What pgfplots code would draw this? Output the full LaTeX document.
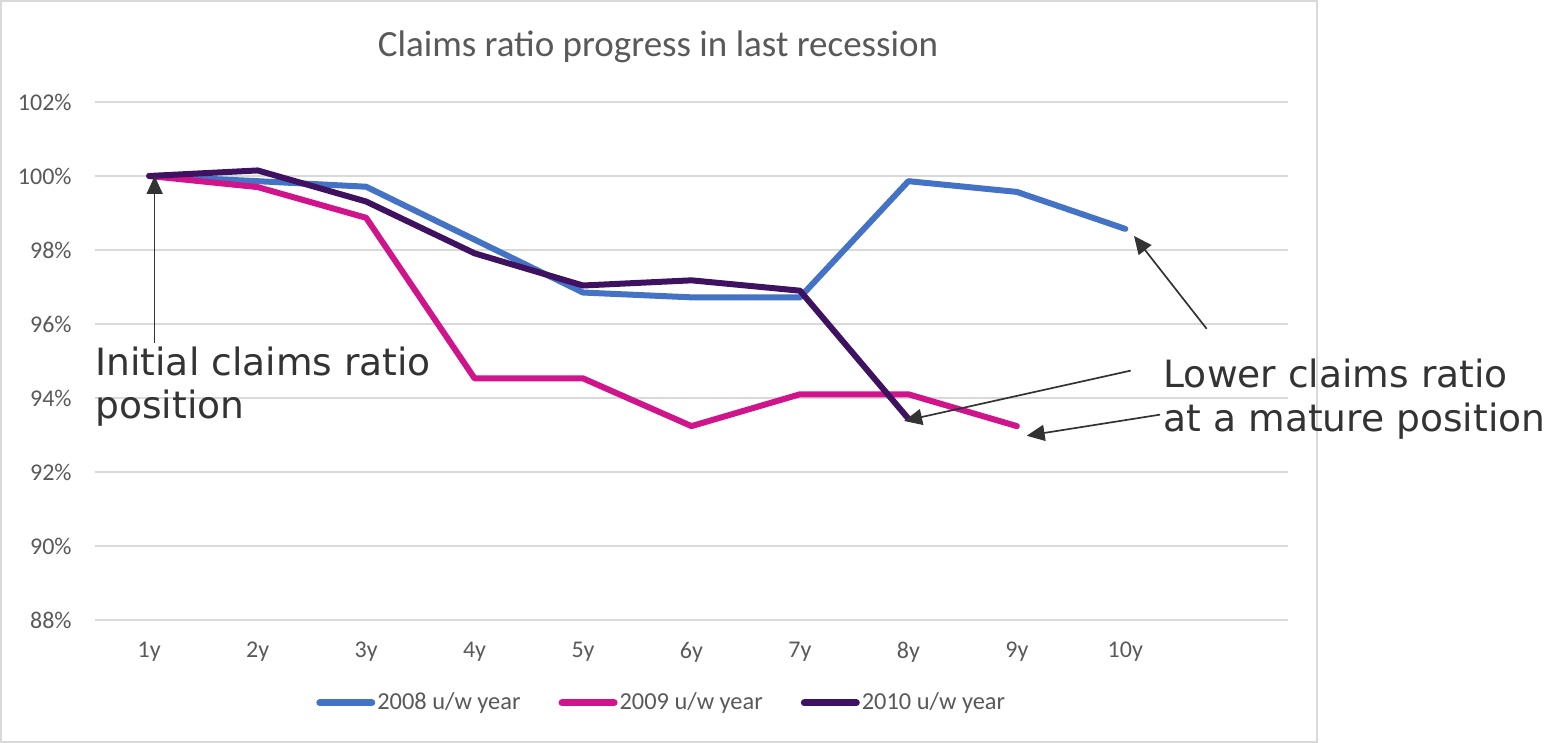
\documentclass[border=0pt]{standalone}
\usepackage{fontspec}
\setmainfont{Carlito}
\newfontfamily\dejavu{DejaVu Sans}
\usepackage{pgfplots}
\pgfplotsset{compat=1.18}
\usetikzlibrary{arrows.meta}

\definecolor{c2008}{HTML}{4472C4}
\definecolor{c2009}{HTML}{D0148B}
\definecolor{c2010}{HTML}{3E1260}
\definecolor{gridgray}{HTML}{D9D9D9}
\definecolor{txtgray}{HTML}{595959}
\definecolor{annot}{HTML}{333333}

\begin{document}
\begin{tikzpicture}
\path[use as bounding box] (0,0) rectangle (773pt,371.5pt);
\draw[gridgray, line width=0.75pt] (0.5pt,0.5pt) rectangle (658.5pt,371pt);
\node[font=\fontsize{18.5}{22}\selectfont, text=txtgray] at (329pt,348pt) {Claims ratio progress in last recession};

\begin{axis}[
    at={(47.5pt,61.5pt)}, anchor=south west,
    scale only axis,
    width=596.5pt, height=259pt,
    xmin=0.5, xmax=11.5,
    ymin=88, ymax=102,
    xtick={1,...,10},
    xticklabels={1y,2y,3y,4y,5y,6y,7y,8y,9y,10y},
    ytick={88,90,...,102},
    yticklabel={\pgfmathprintnumber[assume math mode=true]{\tick}\%},
    axis line style={draw=none},
    major tick length=0pt,
    ymajorgrids,
    grid style={gridgray, line width=1pt},
    tick label style={font=\fontsize{12}{14}\selectfont, text=txtgray},
    yticklabel style={anchor=east, inner sep=0pt, xshift=-11.5pt},
    xticklabel style={anchor=center, inner sep=0pt, yshift=-16pt},
    clip=false,
    legend columns=3,
    legend style={at={(0.475,-0.16)}, anchor=center, draw=none,
        font=\fontsize{12.2}{14}\selectfont, text=txtgray,
        /tikz/every even column/.append style={column sep=18pt},
        nodes={inner xsep=1pt}},
    legend image code/.code={\draw[#1, line width=3.5pt, line cap=round] (0pt,0pt) -- (26pt,0pt);},
    every axis plot/.append style={line width=3pt, line join=round, line cap=round, no markers},
]
\addplot[c2008] coordinates {
    (1,100) (2,99.86) (3,99.71) (4,98.28) (5,96.85) (6,96.72) (7,96.72) (8,99.86) (9,99.57) (10,98.57)
};
\addplot[c2009] coordinates {
    (1,100) (2,99.70) (3,98.87) (4,94.53) (5,94.53) (6,93.24) (7,94.10) (8,94.10) (9,93.24)
};
\addplot[c2010] coordinates {
    (1,100) (2,100.15) (3,99.31) (4,97.91) (5,97.04) (6,97.18) (7,96.90) (8,93.44)
};
\legend{2008 u/w year, 2009 u/w year, 2010 u/w year}

\begin{scope}[annot, line width=0.85pt, -{Triangle[length=9pt,width=8pt]}]
\draw (axis cs:1.05,95.49) -- (axis cs:1.05,100);
\draw (axis cs:10.75,95.87) -- (axis cs:10.08,98.38);
\draw (axis cs:10.05,94.74) -- (axis cs:7.96,93.38);
\draw (axis cs:10.32,93.55) -- (axis cs:9.09,92.98);
\end{scope}
\begin{scope}[every node/.style={annot, font=\dejavu\fontsize{18.8}{22}\selectfont, inner sep=0pt, anchor=base west}]
\node at (axis cs:0.5,94.60) {Initial claims ratio};
\node at (axis cs:0.5,93.44) {position};
\node at (axis cs:10.35,94.28) {Lower claims ratio};
\node at (axis cs:10.35,93.09) {at a mature position};
\end{scope}
\end{axis}
\end{tikzpicture}
\end{document}
